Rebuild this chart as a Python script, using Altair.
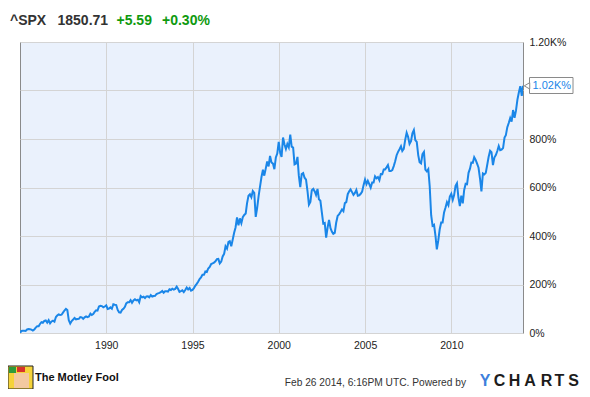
import altair as alt
import pandas as pd

# S&P 500 level (monthly), rebased to the first point
start_date = "1985-01-02"
start_level = 165.37
end_date = "2014-02-26"
end_level = 1850.71

monthly_levels = [
    # 1985
    179.6, 181.2, 180.7, 179.8, 189.6, 191.9, 190.9, 188.6, 182.1, 189.8, 202.2, 211.3,
    # 1986
    211.8, 226.9, 238.9, 235.5, 247.4, 250.8, 236.1, 252.9, 231.3, 244.0, 249.2, 242.2,
    # 1987
    274.1, 284.2, 291.7, 288.4, 290.1, 304.0, 318.7, 329.8, 321.8, 251.8, 230.3, 247.1,
    # 1988
    257.1, 267.8, 258.9, 261.3, 262.2, 273.5, 272.0, 261.5, 271.9, 279.0, 273.7, 277.7,
    # 1989
    297.5, 288.9, 294.9, 309.6, 320.5, 318.0, 346.1, 351.5, 349.2, 340.4, 346.0, 353.4,
    # 1990
    329.1, 331.9, 339.9, 330.8, 361.2, 358.0, 356.2, 322.6, 306.1, 304.0, 322.2, 330.2,
    # 1991
    343.9, 367.1, 375.2, 375.3, 389.8, 371.2, 387.8, 395.4, 387.9, 392.5, 375.2, 417.1,
    # 1992
    408.8, 412.7, 403.7, 415.0, 415.4, 408.1, 424.2, 414.0, 417.8, 418.7, 431.4, 435.7,
    # 1993
    438.8, 443.4, 451.7, 440.2, 450.2, 450.5, 448.1, 463.6, 458.9, 467.8, 461.8, 466.5,
    # 1994
    481.6, 467.1, 445.8, 450.9, 456.5, 444.3, 458.3, 475.5, 462.7, 472.4, 453.7, 459.3,
    # 1995
    470.4, 487.4, 500.7, 514.7, 533.4, 544.8, 562.1, 561.9, 584.4, 581.5, 605.4, 615.9,
    # 1996
    636.0, 640.4, 645.5, 654.2, 669.1, 670.6, 640.0, 652.0, 687.3, 705.3, 757.0, 740.7,
    # 1997
    786.2, 790.8, 757.1, 801.3, 848.3, 885.1, 954.3, 899.5, 947.3, 914.6, 955.4, 970.4,
    # 1998
    980.3, 1049.3, 1101.8, 1111.8, 1090.8, 1133.8, 1120.7, 957.3, 1017.0, 1098.7, 1163.6, 1229.2,
    # 1999
    1279.6, 1238.3, 1286.4, 1335.2, 1301.8, 1372.7, 1328.7, 1320.4, 1282.7, 1362.9, 1388.9, 1469.3,
    # 2000
    1394.5, 1366.4, 1498.6, 1452.4, 1420.6, 1454.6, 1430.8, 1517.7, 1436.5, 1429.4, 1315.2, 1320.3,
    # 2001
    1366.0, 1239.9, 1160.3, 1249.5, 1255.8, 1224.4, 1211.2, 1133.6, 1040.9, 1059.8, 1139.5, 1148.1,
    # 2002
    1130.2, 1106.7, 1147.4, 1076.9, 1067.1, 989.8, 911.6, 916.1, 815.3, 885.8, 936.3, 879.8,
    # 2003
    855.7, 841.2, 848.2, 916.9, 963.6, 974.5, 990.3, 1008.0, 996.0, 1050.7, 1058.2, 1111.9,
    # 2004
    1131.1, 1144.9, 1126.2, 1107.3, 1120.7, 1140.8, 1101.7, 1104.2, 1114.6, 1130.2, 1173.8, 1211.9,
    # 2005
    1181.3, 1203.6, 1180.6, 1156.9, 1191.5, 1191.3, 1234.2, 1220.3, 1228.8, 1207.0, 1249.5, 1248.3,
    # 2006
    1280.1, 1280.7, 1294.9, 1310.6, 1270.1, 1270.2, 1276.7, 1303.8, 1335.9, 1377.9, 1400.6, 1418.3,
    # 2007
    1438.2, 1406.8, 1420.9, 1482.4, 1530.6, 1503.4, 1455.3, 1474.0, 1526.8, 1549.4, 1481.1, 1468.4,
    # 2008
    1378.6, 1330.6, 1322.7, 1385.6, 1400.4, 1280.0, 1267.4, 1282.8, 1166.4, 968.8, 896.2, 903.3,
    # 2009
    825.9, 735.1, 797.9, 872.8, 919.1, 919.3, 987.5, 1020.6, 1057.1, 1036.2, 1095.6, 1115.1,
    # 2010
    1073.9, 1104.5, 1169.4, 1186.7, 1089.4, 1030.7, 1101.6, 1049.3, 1141.2, 1183.3, 1180.6, 1257.6,
    # 2011
    1286.1, 1327.2, 1325.8, 1363.6, 1345.2, 1320.6, 1292.3, 1218.9, 1131.4, 1253.3, 1246.9, 1257.6,
    # 2012
    1312.4, 1365.7, 1408.5, 1397.9, 1310.3, 1362.2, 1379.3, 1406.6, 1440.7, 1412.2, 1416.2, 1426.2,
    # 2013
    1498.1, 1514.7, 1569.2, 1597.6, 1630.7, 1606.3, 1685.7, 1633.0, 1681.6, 1756.5, 1805.8, 1848.4,
    # 2014
    1782.6,
]

y_ticks = [0, 200, 400, 600, 800, 1000, 1200]
x_tick_years = [1990, 1995, 2000, 2005, 2010]

title_parts = [("^SPX", "#333333"), ("1850.71", "#333333"), ("+5.59", "#0f9a0f"), ("+0.30%", "#0f9a0f")]
title_x = [-10, 37.5, 96.5, 142]

ycharts_letters = ["Y", "C", "H", "A", "R", "T", "S"]
ycharts_colors = ["#3d7fdc", "#1c1c1c", "#1c1c1c", "#1c1c1c", "#1c1c1c", "#1c1c1c", "#1c1c1c"]
ycharts_x = [465, 479.5, 494.5, 510, 526.5, 539.5, 553.5]

month_ends = pd.date_range("1985-01-31", periods=len(monthly_levels), freq="ME").strftime("%Y-%m-%d").tolist()
dates = [start_date] + month_ends + [end_date]
levels = [start_level] + monthly_levels + [end_level]
df = pd.DataFrame({"date": dates, "level": levels})
df["pct"] = (df["level"] / start_level - 1) * 100
last_pct = float(df["pct"].iloc[-1])

FONT = "Liberation Sans"
one = alt.Data(values=[{"a": 1}])

x_scale = alt.Scale(domain=[alt.DateTime(year=1985, month=1, date=1),
                            alt.DateTime(year=2014, month=2, date=26)])
y_scale = alt.Scale(domain=[0, 1200], nice=False, zero=True)

line = alt.Chart(df).mark_line(color="#1a86e8", strokeWidth=2, clip=True).encode(
    x=alt.X("date:T", scale=x_scale, title=None,
            axis=alt.Axis(values=[alt.DateTime(year=yv, month=1, date=1) for yv in x_tick_years],
                          format="%Y", ticks=False, domain=False, grid=True,
                          gridColor="#d4d4d4", labelPadding=7, labelFontSize=10.5,
                          labelFont=FONT, labelColor="#222222")),
    y=alt.Y("pct:Q", scale=y_scale, title=None,
            axis=alt.Axis(orient="right", values=y_ticks, ticks=False, domain=False,
                          grid=True, gridColor="#d4d4d4", labelPadding=6, labelFontSize=10.5,
                          labelFont=FONT, labelColor="#222222",
                          labelExpr="datum.value == 1000 ? '' : (datum.value > 1000 ? format(datum.value/1000, '.2f') + 'K%' : datum.value + '%')")),
)

layers = [line]

# title pieces
for (txt, col), xv in zip(title_parts, title_x):
    layers.append(alt.Chart(one).mark_text(text=txt, color=col, font=FONT, fontSize=14,
                                            fontWeight="bold", align="left", baseline="middle")
                  .encode(x=alt.value(xv), y=alt.value(-21)))

# last value callout
layers.append(alt.Chart(one).mark_rect(fill="white", stroke="#8a8a8a", strokeWidth=1)
              .encode(x=alt.value(509.5), x2=alt.value(553), y=alt.value(35.5), y2=alt.value(51.5)))
layers.append(alt.Chart(one).mark_point(shape="triangle-left", filled=True, fill="white",
                                         stroke="#8a8a8a", strokeWidth=1, size=40, opacity=1)
              .encode(x=alt.value(507), y=alt.datum(last_pct)))
layers.append(alt.Chart(one).mark_text(text="1.02K%", color="#1a86e8", font=FONT, fontSize=11,
                                        align="left", baseline="middle")
              .encode(x=alt.value(512.5), y=alt.datum(last_pct)))

# footer: Motley Fool logo
layers.append(alt.Chart(one).mark_rect(fill="#f5d33a", stroke="#222222", strokeWidth=1)
              .encode(x=alt.value(-12), x2=alt.value(13), y=alt.value(324), y2=alt.value(347)))
layers.append(alt.Chart(one).mark_rect(fill="#2d9b3a")
              .encode(x=alt.value(-11), x2=alt.value(-4), y=alt.value(325), y2=alt.value(331)))
layers.append(alt.Chart(one).mark_rect(fill="#d8322b")
              .encode(x=alt.value(-3), x2=alt.value(5), y=alt.value(325), y2=alt.value(330)))
layers.append(alt.Chart(one).mark_rect(fill="#f3c9a0")
              .encode(x=alt.value(-6), x2=alt.value(9), y=alt.value(331), y2=alt.value(346)))
layers.append(alt.Chart(one).mark_text(text="The Motley Fool", color="#111111", font=FONT,
                                        fontSize=11, fontWeight="bold", align="left", baseline="middle")
              .encode(x=alt.value(15), y=alt.value(336)))

# footer: timestamp and YCharts
layers.append(alt.Chart(one).mark_text(text="Feb 26 2014, 6:16PM UTC.  Powered by", color="#333333",
                                        font=FONT, fontSize=10.2, align="right", baseline="middle")
              .encode(x=alt.value(446), y=alt.value(341)))
for letter, col, xv in zip(ycharts_letters, ycharts_colors, ycharts_x):
    layers.append(alt.Chart(one).mark_text(text=letter, color=col, font=FONT, fontSize=16,
                                            fontWeight="bold", align="center", baseline="middle")
                  .encode(x=alt.value(xv), y=alt.value(339)))

chart = alt.layer(*layers).properties(
    width=503, height=291,
    autosize=alt.AutoSizeParams(type="none"),
    padding={"left": 12, "top": 34, "right": 59, "bottom": 56},
    background="white",
).configure_view(fill="#eaf1fc", stroke="#8a8a8a", strokeWidth=1)

chart.save("out.html", embed_options={"renderer": "svg", "actions": False})
